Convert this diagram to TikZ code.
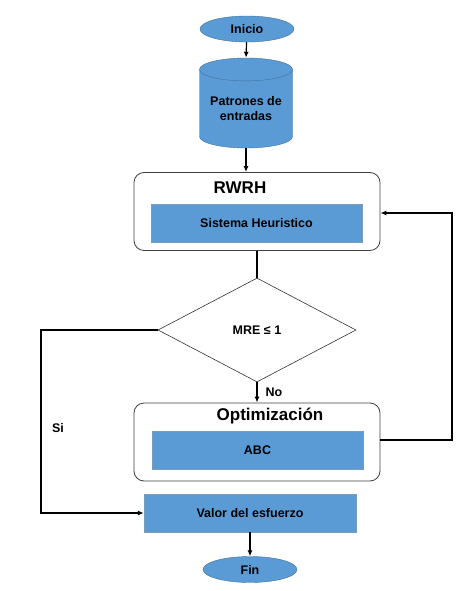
\documentclass[tikz,border=0pt]{standalone}
\usepackage{fontspec}
\setmainfont{Liberation Sans}
\usetikzlibrary{shapes.geometric,arrows.meta,positioning}
\definecolor{boxblue}{HTML}{5B9BD5}
\definecolor{edgeblue}{HTML}{41719C}
\tikzset{
  terminal/.style={
    shape = ellipse,
    draw = edgeblue,
    fill = boxblue,
    minimum width = 94pt,
    minimum height = 26pt,
    inner sep = 0pt,
    font = \fontsize{12.5}{14}\selectfont\bfseries
  },
  datos/.style={
    shape = cylinder,
    shape border rotate = 90,
    aspect = 0.32,
    draw = edgeblue,
    fill = boxblue,
    minimum width = 93pt,
    minimum height = 90pt,
    inner sep = 0pt,
    align = center,
    anchor = shape center,
    font = \fontsize{12.5}{15}\selectfont\bfseries
  },
  bloque/.style={
    draw = black!75,
    line width = 0.8pt,
    fill = white,
    rounded corners = 10pt,
    minimum width = 246pt,
    minimum height = 78pt,
    inner sep = 0pt
  },
  proceso/.style={
    draw = edgeblue!70,
    fill = boxblue,
    minimum width = 211pt,
    minimum height = 38pt,
    inner sep = 0pt,
    font = \fontsize{12.5}{14}\selectfont\bfseries
  },
  decision/.style={
    shape = diamond,
    draw = black!80,
    line width = 0.6pt,
    fill = white,
    minimum width = 198pt,
    minimum height = 104pt,
    inner sep = 0pt,
    font = \fontsize{12.5}{14}\selectfont\bfseries
  },
  titulo/.style={
    inner sep = 0pt,
    font = \fontsize{17}{19}\selectfont\bfseries
  },
  rotulo/.style={
    inner sep = 0pt,
    font = \fontsize{12.5}{14}\selectfont\bfseries
  },
  flecha/.style={
    line width = 1.2pt,
    -{Latex[length=6pt,width=5pt]}
  },
  linea/.style={
    line width = 1.2pt
  },
}

\begin{document}
\begin{tikzpicture}[x=1pt,y=-1pt]
  \useasboundingbox (0,0) rectangle (474,591);
  % nodos principales
  \node[terminal] (inicio) at (247,29) {Inicio};
  \node[datos] (patrones) at (246,103) {Patrones de\\entradas};
  \node[bloque] (rwrh) at (257,211.5) {};
  \node[titulo] (trwrh) at (240,188) {RWRH};
  \node[proceso] (heur) at (256.5,223.5) {Sistema Heuristico};
  \node[decision] (mre) at (257,330) {MRE ≤ 1};
  \node[bloque] (opt) at (257,442) {};
  \node[titulo] (topt) at (270,416) {Optimización};
  \node[proceso] (abc) at (257.5,450) {ABC};
  \node[proceso, minimum width=212pt] (valor) at (250,513) {Valor del esfuerzo};
  \node[terminal] (fin) at (250,569.5) {Fin};
  \node[rotulo] (si) at (58,428) {Si};
  \node[rotulo] (no) at (274,392) {No};
  \coordinate (izq1) at (41,330);
  \coordinate (izq2) at (41,513);
  \coordinate (der1) at (452,440);
  \coordinate (der2) at (452,213);
  % conectores
  \draw[flecha] (inicio) -- (patrones.north);
  \draw[flecha] (patrones.south) -- (patrones.south |- rwrh.north);
  \draw[linea] (rwrh.south) -- (mre.north);
  \draw[flecha] (mre.south) -- (opt.north);
  \draw[flecha] (mre.west) -- (izq1) -- (izq2) -- (valor.west);
  \draw[flecha] (opt.east |- der1) -- (der1) -- (der2) -- (rwrh.east |- der2);
  \draw[flecha] (valor.south -| fin.north) -- (fin.north);
\end{tikzpicture}
\end{document}
